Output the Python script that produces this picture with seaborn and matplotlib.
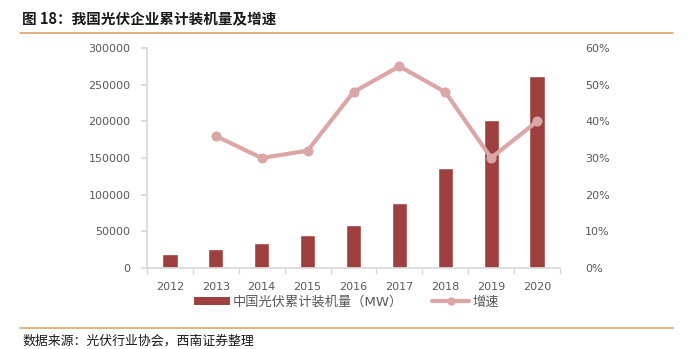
import matplotlib
matplotlib.use("Agg")
import matplotlib.pyplot as plt
import seaborn as sns
import pandas as pd
import numpy as np
from matplotlib.lines import Line2D
from matplotlib.patches import Patch

years = ["2012", "2013", "2014", "2015", "2016", "2017", "2018", "2019", "2020"]
capacity = [19000, 26000, 34000, 45000, 59000, 88000, 136000, 202000, 262000]
growth_years = ["2013", "2014", "2015", "2016", "2017", "2018", "2019", "2020"]
growth = [0.36, 0.30, 0.32, 0.48, 0.55, 0.48, 0.30, 0.40]
left_ticks = [0, 50000, 100000, 150000, 200000, 250000, 300000]
right_ticks = [0, 0.1, 0.2, 0.3, 0.4, 0.5, 0.6]

title = "图 18：我国光伏企业累计装机量及增速"
bar_label = "中国光伏累计装机量（MW）"
line_label = "增速"
source = "数据来源：光伏行业协会，西南证券整理"

sns.set_theme(style="white")
plt.rcParams['font.family'] = ['DejaVu Sans', 'Noto Sans CJK SC']

bar_color = "#9E4040"
line_color = "#DBA7A6"
grey = "#595959"
axis_grey = "#D9D9D9"

fig = plt.figure(figsize=(6.89, 3.49), dpi=100)
ax = fig.add_axes([147/689, 81/349, 413/689, 220/349])

df_bar = pd.DataFrame({"year": years, "cap": capacity})
sns.barplot(data=df_bar, x="year", y="cap", order=years, color=bar_color,
            width=0.33, saturation=1, ax=ax)
ax.set_ylim(0, 300000)
ax.set_yticks(left_ticks)
ax.set_yticklabels([str(v) for v in left_ticks])
ax.set_xlabel("")
ax.set_ylabel("")
for s in ["top", "right"]:
    ax.spines[s].set_visible(False)
ax.spines["left"].set_color(axis_grey)
ax.spines["bottom"].set_color(axis_grey)
ax.tick_params(axis="y", colors=grey, labelsize=8, left=True, length=4, color=axis_grey, pad=8)
ax.tick_params(axis="x", colors=grey, labelsize=8, bottom=False, pad=4)
ax.set_xticks(np.arange(-0.5, len(years), 1.0), minor=True)
ax.tick_params(axis="x", which="minor", bottom=True, length=4, color=axis_grey)
ax.set_xlim(-0.5, len(years) - 0.5)

ax2 = ax.twinx()
df_line = pd.DataFrame({"year": growth_years, "g": growth})
sns.pointplot(data=df_line, x="year", y="g", order=years, color=line_color,
              markers="o", markersize=5, linewidth=3, ax=ax2)
ax2.set_ylim(0, 0.6)
ax2.set_yticks(right_ticks)
ax2.set_yticklabels([f"{int(round(v*100))}%" for v in right_ticks])
ax2.set_ylabel("")
ax2.set_xlabel("")
for s in ["top", "right", "left", "bottom"]:
    ax2.spines[s].set_visible(False)
ax2.tick_params(axis="y", colors=grey, labelsize=8, right=False, pad=12)
ax2.set_xlim(-0.5, len(years) - 0.5)

handles = [Patch(facecolor=bar_color, edgecolor="none"),
           Line2D([0], [0], color=line_color, lw=3, marker="o", markersize=5)]
fig.legend(handles, [bar_label, line_label], loc="center", bbox_to_anchor=(346/689, 1 - 302/349),
           ncol=2, frameon=False, fontsize=9.5, labelcolor=grey, handlelength=2.8,
           handletextpad=0.2, columnspacing=2.2, handleheight=0.6)

fig.text(22/689, 1 - 19/349, title, fontsize=10.5, fontweight="bold", color="#1a1a1a", va="center",
         family=['Noto Sans CJK SC', 'DejaVu Sans'])
fig.add_artist(Line2D([20/689, 673/689], [1 - 33/349, 1 - 33/349], color="#D9A46A", lw=1.2))
fig.add_artist(Line2D([20/689, 673/689], [1 - 328/349, 1 - 328/349], color="#D9A46A", lw=1.2))
fig.text(22/689, 1 - 341/349, source, fontsize=9.3, color="#1a1a1a", va="center", style="italic",
         family=['Noto Sans CJK SC', 'DejaVu Sans'])

fig.savefig("out.png", dpi=100)
